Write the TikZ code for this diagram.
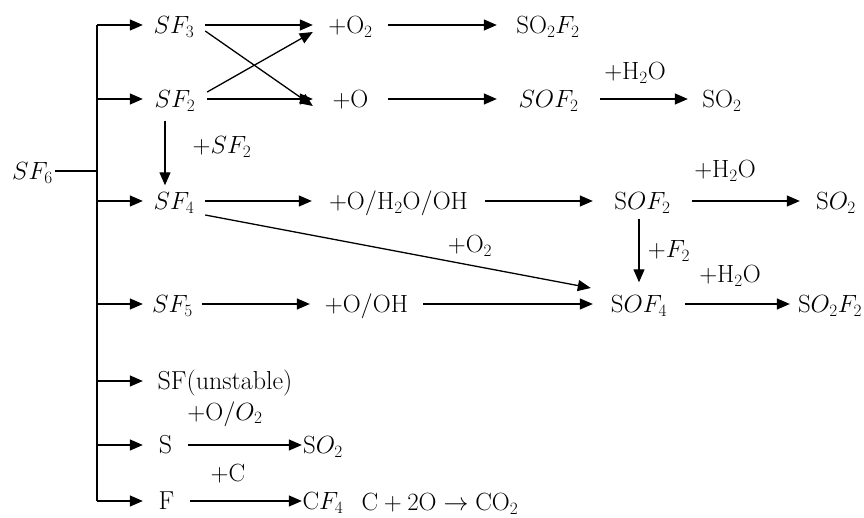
\documentclass[tikz,border=0pt]{standalone}
\usetikzlibrary{arrows.meta}
\begin{document}
\begin{tikzpicture}[x=1pt,y=-1pt,
  t/.style={inner xsep=0pt,inner ysep=0pt,text height=20pt,text depth=3pt,font=\fontsize{26}{30}\selectfont},
  lab/.style={inner sep=0pt,font=\fontsize{26}{30}\selectfont},
  arr/.style={line width=1.3pt,-{Triangle[length=13pt,width=11pt]}},
  ln/.style={line width=1.3pt}]
\useasboundingbox (0,0) rectangle (864,518);
% source
\node[t,minimum width=45pt] (sf6) at (32.5,171) {$SF_6$};
\coordinate (j) at (97,171);
% first column
\node[t,minimum width=62pt] (sf3) at (174,25) {$SF_3$};
\node[t,minimum width=64pt] (sf2) at (175,99) {$SF_2$};
\node[t,minimum width=62pt] (sf4) at (174,201) {$SF_4$};
\node[t,minimum width=59pt] (sf5) at (172.5,304) {$SF_5$};
\node[t,minimum width=164pt] (sfu) at (225,381) {SF(unstable)};
\node[t,minimum width=45pt] (s) at (165.5,445) {S};
\node[t,minimum width=47pt] (f) at (166.5,501) {F};
% row SF3
\node[t,minimum width=75pt] (po2) at (350.5,25) {$+\mathrm{O}_2$};
\node[t,minimum width=102pt] (so2f2a) at (548,25) {$\mathrm{SO}_2F_2$};
% row SF2
\node[t,minimum width=75pt] (po) at (350.5,99) {$+\mathrm{O}$};
\node[t,minimum width=103pt] (sof2a) at (548.5,99) {$SOF_2$};
\node[t,minimum width=68pt] (so2a) at (722,99) {$\mathrm{SO}_2$};
\node[lab] (h2oa) at (635,73) {$+\mathrm{H_2O}$};
% row SF4
\node[t,minimum width=173pt] (pohoh) at (398.5,201) {$+\mathrm{O/H_2O/OH}$};
\node[t,minimum width=99pt] (sof2b) at (642.5,201) {$\mathrm{S}OF_2$};
\node[t,minimum width=72pt] (so2b) at (836,201) {$\mathrm{S}O_2$};
\node[lab] (h2ob) at (725,171) {$+\mathrm{H_2O}$};
\node[lab] (sfl) at (222,147) {$+SF_2$};
% row SF5
\node[t,minimum width=113pt] (pooh) at (366.5,304) {$+\mathrm{O/OH}$};
\node[t,minimum width=92pt] (sof4) at (639,304) {$\mathrm{S}OF_4$};
\node[t,minimum width=80pt] (so2f2b) at (830,304) {$\mathrm{S}O_2F_2$};
\node[lab] (h2oc) at (730,276) {$+\mathrm{H_2O}$};
\node[lab] (f2l) at (669,251) {$+F_2$};
\node[lab] (o2l) at (470,246) {$+\mathrm{O}_2$};
% rows S and F
\node[t,minimum width=42pt] (so2c) at (323,445) {$\mathrm{S}O_2$};
\node[lab] (oo2l) at (225,414) {$+\mathrm{O}/O_2$};
\node[t,minimum width=42pt] (cf4) at (323,501) {$\mathrm{C}F_4$};
\node[lab] (cl) at (228,474) {$+\mathrm{C}$};
\node[t] (eq) at (440,502) {$\mathrm{C}+2\mathrm{O}\rightarrow\mathrm{CO}_2$};
% tree
\draw[line width=2.8pt] (sf6.east) -- (j);
\draw[ln] (sf3.west -| j) -- (f.west -| j);
\foreach \n in {sf3,sf2,sf4,sf5,sfu,s,f}
  \draw[arr] (\n.west -| j) -- (\n.west);
% connectors
\draw[arr] (sf3) -- (po2);
\draw[arr] ([yshift=-6pt]sf3.east) -- ([yshift=-7pt]po.west);
\draw[arr] ([yshift=7pt]sf2.east) -- ([yshift=-7pt]po2.west);
\draw[arr] (sf2) -- (po);
\draw[arr] (po2) -- (so2f2a);
\draw[arr] (po) -- (sof2a);
\draw[arr] (sof2a) -- (so2a);
\draw[arr,shorten <=10pt,shorten >=4pt] ([xshift=-10pt]sf2.south) -- ([xshift=-9pt]sf4.north);
\draw[arr] (sf4) -- (pohoh);
\draw[arr] (pohoh.east) -- (sof2b.west);
\draw[arr] (sof2b) -- (so2b);
\draw[arr,shorten <=6pt,shorten >=10pt] (sof2b.south -| sof4.north) -- (sof4.north);
\draw[arr] ([yshift=-14pt]sf4.east) -- ([shift={(-2pt,16pt)}]sof4.west);
\draw[arr] (sf5) -- (pooh);
\draw[arr] (pooh) -- (sof4);
\draw[arr] (sof4) -- (so2f2b);
\draw[arr] (s) -- (so2c);
\draw[arr] (f) -- (cf4);
\end{tikzpicture}
\end{document}
